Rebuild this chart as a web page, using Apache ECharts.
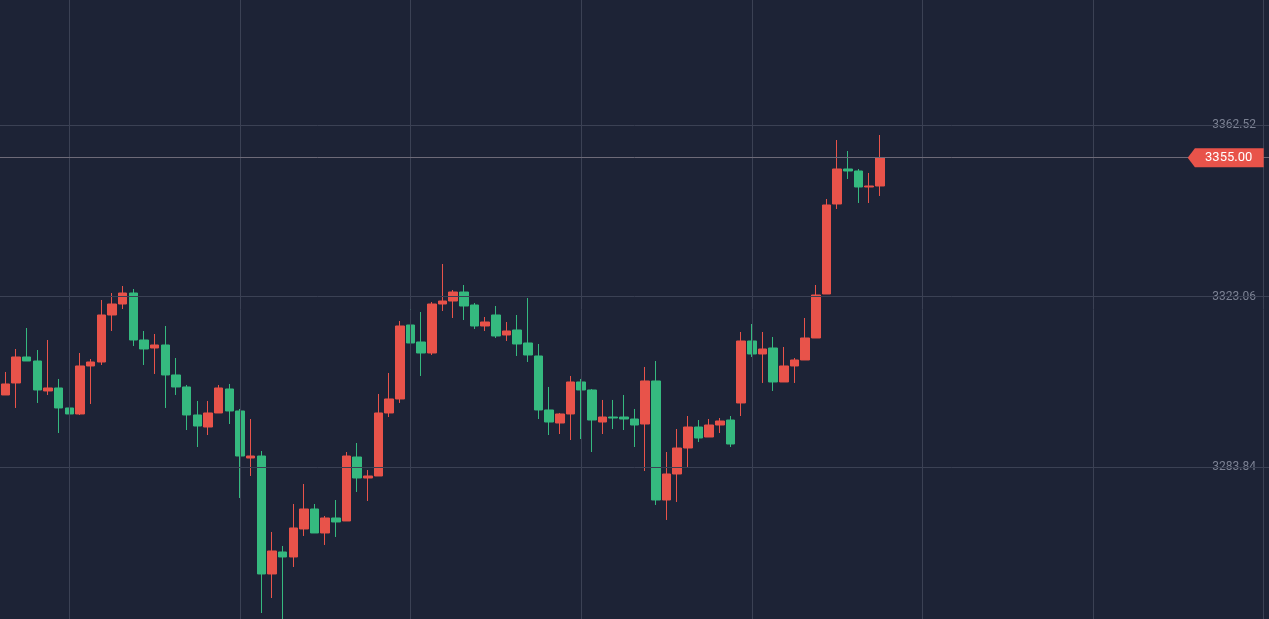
<!DOCTYPE html>
<html><head><meta charset="utf-8">
<script src="https://cdn.jsdelivr.net/npm/echarts@6/dist/echarts.min.js"></script>
<style>html,body{margin:0;padding:0;background:#1d2336;}#c{width:1269px;height:619px;}</style>
</head><body><div id="c"></div>
<script>
// [open, close, low, high]
const candles = [
[3300.41,3302.94,3300.41,3305.70],[3303.17,3309.15,3297.42,3310.99],[3309.15,3308.23,3308.23,3315.82],[3308.23,3301.56,3298.57,3310.76],
[3301.33,3302.02,3300.41,3313.06],[3302.02,3297.42,3291.66,3304.09],[3297.42,3296.04,3294.19,3298.80],[3296.04,3307.08,3295.81,3310.07],
[3307.08,3308.00,3298.34,3308.69],[3308.00,3318.81,3307.31,3322.26],[3318.81,3321.34,3315.13,3323.87],[3321.34,3323.87,3320.19,3325.48],
[3323.87,3313.06,3311.68,3324.79],[3313.06,3310.99,3307.31,3315.13],[3311.22,3311.91,3305.24,3314.44],[3311.91,3305.01,3297.42,3316.28],
[3305.01,3302.25,3300.41,3308.92],[3302.25,3295.81,3292.35,3302.71],[3295.81,3293.27,3288.44,3299.03],[3293.04,3296.27,3291.20,3299.03],
[3296.27,3302.02,3296.27,3302.71],[3301.79,3296.73,3293.73,3302.94],[3296.73,3286.37,3276.71,3297.19],[3285.91,3286.37,3281.77,3294.88],
[3286.37,3259.23,3250.25,3287.52],[3259.23,3264.52,3253.70,3268.89],[3264.29,3263.14,3248.00,3265.67],[3263.14,3269.81,3260.84,3275.33],
[3269.58,3274.18,3267.97,3279.93],[3274.18,3268.66,3268.66,3275.33],[3268.66,3272.11,3265.90,3272.57],[3272.11,3271.19,3267.74,3276.25],
[3271.42,3286.37,3271.42,3287.29],[3286.14,3281.31,3278.09,3289.36],[3281.31,3281.77,3276.02,3283.15],[3281.77,3296.27,3281.77,3300.64],
[3296.27,3299.49,3295.34,3305.47],[3299.49,3316.28,3298.57,3317.43],[3316.51,3312.37,3310.30,3322.03],[3312.60,3310.07,3304.78,3319.50],
[3310.07,3321.34,3309.61,3321.80],[3321.34,3322.03,3319.73,3330.54],[3322.03,3324.10,3318.12,3324.56],[3324.10,3320.88,3317.66,3325.71],
[3321.11,3316.28,3315.59,3321.57],[3316.28,3317.20,3315.13,3318.35],[3318.81,3313.98,3313.52,3320.88],[3314.21,3315.13,3312.83,3317.20],
[3315.36,3312.14,3309.38,3318.81],[3312.37,3309.61,3308.00,3322.72],[3309.38,3296.96,3294.88,3312.14],[3296.96,3294.19,3291.20,3302.25],
[3293.96,3296.04,3291.43,3296.27],[3296.04,3303.40,3290.05,3304.78],[3303.40,3301.56,3290.28,3304.09],[3301.56,3294.65,3287.29,3301.79],
[3294.19,3295.34,3291.43,3299.26],[3295.34,3295.11,3292.58,3299.26],[3295.34,3294.88,3292.35,3300.41],[3294.88,3293.50,3288.44,3297.19],
[3293.73,3303.63,3282.92,3306.85],[3303.63,3276.25,3275.10,3308.23],[3276.25,3282.23,3271.65,3287.29],[3282.23,3288.21,3275.79,3292.58],
[3288.21,3293.04,3283.84,3295.57],[3293.04,3290.51,3289.59,3294.65],[3290.74,3293.50,3290.74,3294.88],[3293.50,3294.42,3291.66,3295.11],
[3294.65,3289.13,3288.44,3295.57],[3298.57,3312.83,3295.57,3314.90],[3312.83,3309.84,3309.15,3316.74],[3309.84,3310.99,3303.17,3314.90],
[3311.22,3303.40,3301.33,3313.75],[3303.40,3307.08,3303.40,3311.45],[3307.08,3308.46,3303.17,3308.92],[3308.46,3313.52,3308.46,3318.12],
[3313.52,3323.41,3313.52,3325.71],[3323.64,3344.12,3323.64,3345.50],[3344.35,3352.40,3343.20,3359.07],[3352.40,3351.94,3350.10,3356.54],
[3351.94,3348.26,3344.58,3352.40],[3348.26,3348.49,3344.58,3351.48],[3348.49,3355.00,3346.19,3360.22]
];
const totalSlots = 119;
const categories = Array.from({length: totalSlots}, (_, i) => String(i + 1));
const priceTicks = [3283.84, 3323.06, 3362.52];
const verticalGridSlots = [6, 22, 38, 54, 70, 86, 102, 118];
const lastPrice = 3355.00;
const yMin = 3248.87, yMax = 3391.28;

const chart = echarts.init(document.getElementById('c'));
chart.setOption({
  backgroundColor: '#1d2336',
  animation: false,
  grid: {left: 0, right: 0, top: 0, bottom: 0},
  xAxis: {type: 'category', data: categories, boundaryGap: true, show: false},
  yAxis: {
    type: 'value', position: 'right', min: yMin, max: yMax,
    splitLine: {show: false}, axisLine: {show: false}, axisTick: {show: false},
    axisLabel: {inside: true, margin: 13, color: '#7c8294', fontSize: 12, fontFamily: 'Roboto',
      customValues: priceTicks, formatter: v => v.toFixed(2)}
  },
  series: [{
    type: 'candlestick',
    data: candles,
    barWidth: 9,
    itemStyle: {color: '#e8534a', color0: '#35b97f', borderColor: '#e8534a', borderColor0: '#35b97f', borderWidth: 1},
    markLine: {
      silent: true, symbol: 'none', animation: false,
      label: {show: false},
      data: [
        ...priceTicks.map(v => ({yAxis: v, lineStyle: {color: '#3b4154', width: 1, type: 'solid'}})),
        ...verticalGridSlots.map(i => ({xAxis: String(i + 1), lineStyle: {color: '#3b4154', width: 1, type: 'solid'}})),
        {yAxis: lastPrice, lineStyle: {color: '#6d6a78', width: 1, type: 'solid'}}
      ]
    },
    markPoint: {
      silent: true, animation: false,
      data: [{
        coord: [String(totalSlots), lastPrice],
        symbol: 'path://M0,10 L8,0 L84,0 L84,20 L8,20 Z',
        symbolSize: [76, 19],
        symbolOffset: [-38, 0],
        itemStyle: {color: '#e8534a'},
        label: {show: true, formatter: lastPrice.toFixed(2), color: '#ffffff', fontSize: 13, fontFamily: 'Roboto', offset: [3, 0]}
      }]
    }
  }]
});
</script></body></html>
